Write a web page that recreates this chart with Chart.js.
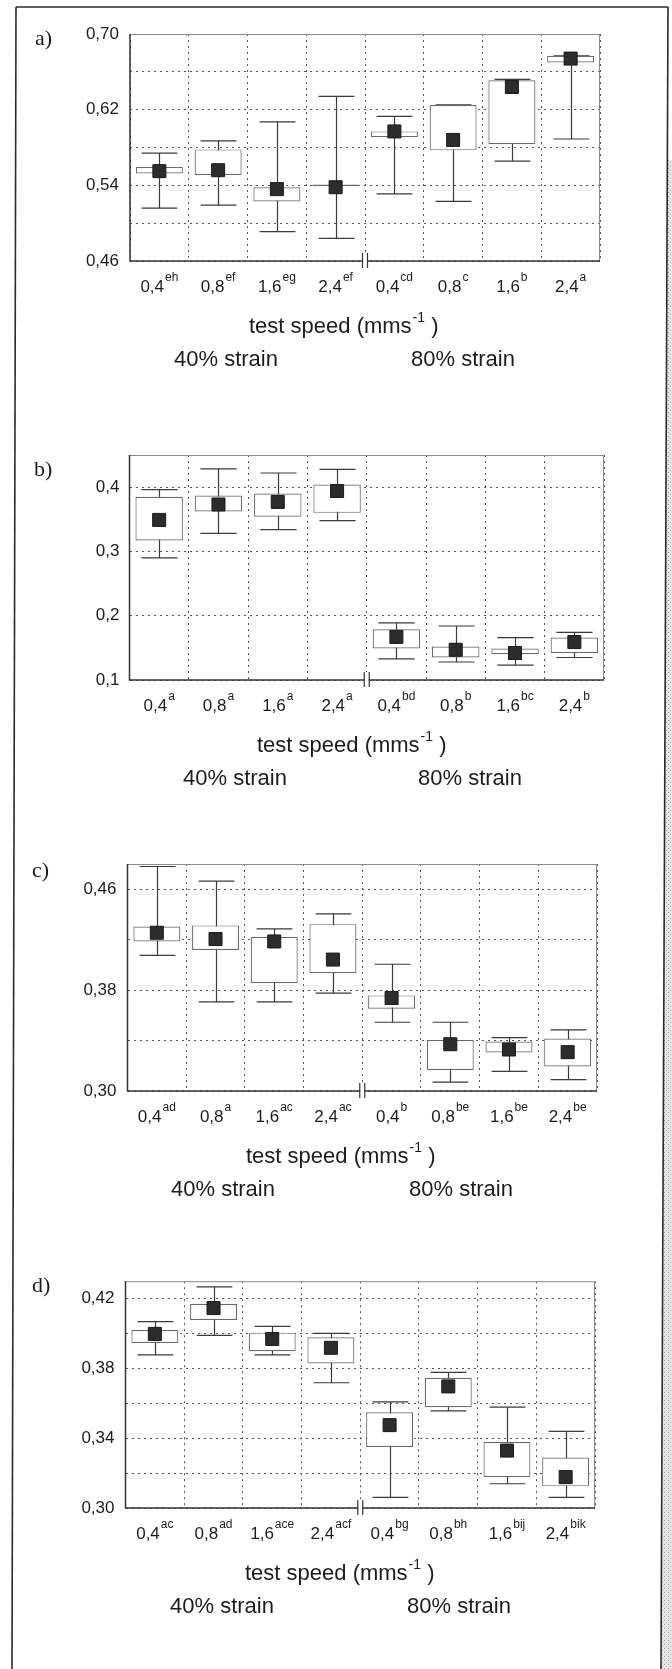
<!DOCTYPE html>
<html>
<head>
<meta charset="utf-8">
<script src="https://cdn.jsdelivr.net/npm/chart.js@4.4.0/dist/chart.umd.min.js"></script>
<style>
  html, body { margin: 0; padding: 0; background: #fff; }
  #page { position: relative; width: 672px; height: 1669px; overflow: hidden; background: #fff; }
  #page canvas { position: absolute; left: 0; }
  #frame { position: absolute; left: 0; top: 0; pointer-events: none; }
</style>
</head>
<body>
<div id="page">
  <canvas id="chartA" style="top:0px"></canvas>
  <canvas id="chartB" style="top:420px"></canvas>
  <canvas id="chartC" style="top:840px"></canvas>
  <canvas id="chartD" style="top:1260px"></canvas>
  <svg id="frame" width="672" height="1669">
    <defs>
      <pattern id="speck" width="4" height="4" patternUnits="userSpaceOnUse">
        <rect width="4" height="4" fill="#e6e6e6"/>
        <rect x="0" y="0" width="1" height="1" fill="#9c9c9c"/>
        <rect x="2" y="2" width="1" height="1" fill="#b4b4b4"/>
      </pattern>
    </defs>
    <polygon points="667,160 672,160 672,1669 662,1669" fill="url(#speck)"/>
    <line x1="16" y1="7" x2="668" y2="7" stroke="#2a2a2a" stroke-width="1.6"/>
    <line x1="16" y1="7" x2="12" y2="1669" stroke="#2a2a2a" stroke-width="1.6"/>
    <line x1="668" y1="7" x2="661" y2="1669" stroke="#2a2a2a" stroke-width="1.6"/>
  </svg>
</div>
<script>
// categories (test speed) shared by all four panels
const categories = ['0,4', '0,8', '1,6', '2,4', '0,4', '0,8', '1,6', '2,4'];

// panel a
const supA = ['eh', 'ef', 'eg', 'ef', 'cd', 'c', 'b', 'a'];
const whiskerMaxA = [0.574, 0.587, 0.607, 0.634, 0.613, 0.625, 0.652, 0.677];
const boxHighA = [0.5595, 0.578, 0.538, 0.541, 0.597, 0.625, 0.651, 0.677];
const meanA = [0.555, 0.556, 0.536, 0.538, 0.597, 0.588, 0.644, 0.674];
const boxLowA = [0.5525, 0.551, 0.523, 0.539, 0.591, 0.577, 0.5835, 0.670];
const whiskerMinA = [0.516, 0.519, 0.491, 0.484, 0.531, 0.523, 0.5655, 0.589];
const gridTicksA = [0.46, 0.50, 0.54, 0.58, 0.62, 0.66, 0.70];
const labelTicksA = [0.46, 0.54, 0.62, 0.70];

// panel b
const supB = ['a', 'a', 'a', 'a', 'bd', 'b', 'bc', 'b'];
const whiskerMaxB = [0.396, 0.4285, 0.422, 0.4275, 0.189, 0.184, 0.166, 0.174];
const boxHighB = [0.385, 0.387, 0.390, 0.404, 0.179, 0.152, 0.149, 0.166];
const meanB = [0.349, 0.373, 0.377, 0.394, 0.167, 0.147, 0.142, 0.159];
const boxLowB = [0.317, 0.362, 0.354, 0.360, 0.149, 0.135, 0.140, 0.142];
const whiskerMinB = [0.290, 0.328, 0.334, 0.348, 0.133, 0.128, 0.123, 0.135];
const gridTicksB = [0.1, 0.2, 0.3, 0.4];
const labelTicksB = [0.1, 0.2, 0.3, 0.4];

// panel c
const supC = ['ad', 'a', 'ac', 'ac', 'b', 'be', 'be', 'be'];
const whiskerMaxC = [0.478, 0.4665, 0.4286, 0.4404, 0.4005, 0.3545, 0.3423, 0.3484];
const boxHighC = [0.4305, 0.4313, 0.4223, 0.4323, 0.3758, 0.3405, 0.3392, 0.3416];
const meanC = [0.4255, 0.4205, 0.4186, 0.4042, 0.3737, 0.3371, 0.3329, 0.3308];
const boxLowC = [0.4186, 0.4118, 0.3855, 0.3934, 0.3652, 0.3166, 0.3305, 0.3195];
const whiskerMinC = [0.4076, 0.3707, 0.3707, 0.3776, 0.3545, 0.3071, 0.3155, 0.309];
const gridTicksC = [0.30, 0.34, 0.38, 0.42, 0.46];
const labelTicksC = [0.30, 0.38, 0.46];

// panel d
const supD = ['ac', 'ad', 'ace', 'acf', 'bg', 'bh', 'bij', 'bik'];
const whiskerMaxD = [0.4068, 0.4268, 0.4041, 0.4001, 0.3608, 0.3777, 0.3578, 0.3439];
const boxHighD = [0.402, 0.4169, 0.4005, 0.3979, 0.3549, 0.3747, 0.3378, 0.3289];
const meanD = [0.3998, 0.4146, 0.3969, 0.3918, 0.3475, 0.3697, 0.3329, 0.3177];
const boxLowD = [0.3946, 0.4078, 0.3899, 0.3828, 0.335, 0.3578, 0.3177, 0.3124];
const whiskerMinD = [0.3878, 0.399, 0.3878, 0.3718, 0.3061, 0.3557, 0.3139, 0.3061];
const gridTicksD = [0.30, 0.32, 0.34, 0.36, 0.38, 0.40, 0.42];
const labelTicksD = [0.30, 0.34, 0.38, 0.42];

const SANS = '"Liberation Sans", Arial, sans-serif';
const SERIF = '"Liberation Serif", "Times New Roman", serif';
const INK = '#1c1c1c';

// whiskers, frame, break mark and all texts of one panel
function panelPlugin(p) {
    return {
        id: 'panelDecor',
        beforeDatasetsDraw(chart) {
            const ctx = chart.ctx;
            const xs = chart.scales.x;
            const ys = chart.scales.y;
            const step = xs.getPixelForValue(1) - xs.getPixelForValue(0);
            const capHalf = step * 0.305;
            ctx.save();
            ctx.strokeStyle = '#3a3a3a';
            ctx.lineWidth = 1.2;
            p.whiskerMin.forEach((lo, i) => {
                const x = Math.round(xs.getPixelForValue(i)) + 0.5;
                const yLo = ys.getPixelForValue(lo);
                const yHi = ys.getPixelForValue(p.whiskerMax[i]);
                ctx.beginPath();
                ctx.moveTo(x, yLo);
                ctx.lineTo(x, yHi);
                ctx.moveTo(x - capHalf, yLo);
                ctx.lineTo(x + capHalf, yLo);
                ctx.moveTo(x - capHalf, yHi);
                ctx.lineTo(x + capHalf, yHi);
                ctx.stroke();
            });
            ctx.restore();
        },
        afterDraw(chart) {
            const ctx = chart.ctx;
            const a = chart.chartArea;
            const xs = chart.scales.x;
            ctx.save();
            // plot frame
            ctx.lineWidth = 1;
            ctx.strokeStyle = '#8a8a8a';
            ctx.beginPath();
            ctx.moveTo(a.left, a.top + 0.5);
            ctx.lineTo(a.right - 0.5, a.top + 0.5);
            ctx.lineTo(a.right - 0.5, a.bottom);
            ctx.stroke();
            ctx.lineWidth = 1.5;
            ctx.strokeStyle = '#333';
            ctx.beginPath();
            ctx.moveTo(a.left, a.top);
            ctx.lineTo(a.left, a.bottom);
            ctx.lineTo(a.right, a.bottom);
            ctx.stroke();

            // axis break between the two strain groups
            const bx = (xs.getPixelForValue(3) + xs.getPixelForValue(4)) / 2;
            ctx.fillStyle = '#fff';
            ctx.fillRect(bx - 2, a.bottom - 8, 4, 15);
            ctx.lineWidth = 1.2;
            ctx.strokeStyle = '#333';
            ctx.beginPath();
            ctx.moveTo(bx - 2.5, a.bottom - 8);
            ctx.lineTo(bx - 2.5, a.bottom + 7);
            ctx.moveTo(bx + 2.5, a.bottom - 8);
            ctx.lineTo(bx + 2.5, a.bottom + 7);
            ctx.stroke();

            ctx.fillStyle = INK;
            ctx.textBaseline = 'alphabetic';
            ctx.textAlign = 'left';

            // category labels with letter superscripts
            const catY = a.bottom + 31;
            categories.forEach((c, i) => {
                ctx.font = '17px ' + SANS;
                const w1 = ctx.measureText(c).width;
                ctx.font = '12px ' + SANS;
                const w2 = ctx.measureText(p.sup[i]).width;
                const x0 = xs.getPixelForValue(i) - (w1 + w2 + 1) / 2;
                ctx.font = '17px ' + SANS;
                ctx.fillText(c, x0, catY);
                ctx.font = '12px ' + SANS;
                ctx.fillText(p.sup[i], x0 + w1 + 1, catY - 11);
            });

            // axis title
            const tY = a.bottom + 72;
            ctx.font = '22px ' + SANS;
            const part1 = 'test speed (mms';
            ctx.fillText(part1, p.titleX, tY);
            let tx = p.titleX + ctx.measureText(part1).width + 1;
            ctx.font = '14px ' + SANS;
            ctx.fillText('-1', tx, tY - 11);
            tx += ctx.measureText('-1').width;
            ctx.font = '22px ' + SANS;
            ctx.fillText(' )', tx, tY);

            // strain groups
            const sY = a.bottom + 105;
            ctx.fillText('40% strain', p.strain40X, sY);
            ctx.fillText('80% strain', p.strain80X, sY);

            // panel letter
            ctx.font = '22px ' + SANS.replace(SANS, SERIF);
            ctx.textBaseline = 'middle';
            ctx.fillText(p.letter, p.letterX, p.letterY);
            ctx.restore();
        }
    };
}

function makePanel(canvasId, p) {
    const canvas = document.getElementById(canvasId);
    canvas.width = 672;
    canvas.height = p.height;
    canvas.style.width = '672px';
    canvas.style.height = p.height + 'px';
    const near = (v, list) => list.some(t => Math.abs(t - v) < 1e-6);

    return new Chart(canvas, {
        data: {
            labels: categories,
            datasets: [
                {
                    type: 'line',
                    data: p.mean,
                    showLine: false,
                    pointStyle: 'rect',
                    pointRadius: 9.2,
                    pointBorderWidth: 1,
                    pointBackgroundColor: '#2c2c2c',
                    pointBorderColor: '#1a1a1a',
                    order: 0
                },
                {
                    type: 'bar',
                    data: p.boxLow.map((lo, i) => [lo, p.boxHigh[i]]),
                    backgroundColor: '#ffffff',
                    borderColor: '#6b6b6b',
                    borderWidth: 1.2,
                    borderSkipped: false,
                    barPercentage: 0.8,
                    categoryPercentage: 1,
                    order: 1
                }
            ]
        },
        options: {
            responsive: false,
            devicePixelRatio: 1,
            animation: false,
            events: [],
            layout: {
                padding: { left: 0, top: p.plotTop, right: 672 - p.plotRight, bottom: 0 }
            },
            plugins: {
                legend: { display: false },
                tooltip: { enabled: false }
            },
            scales: {
                x: {
                    type: 'category',
                    offset: true,
                    grid: { offset: true, color: '#555', lineWidth: 1, drawTicks: false },
                    border: { display: false, dash: [2, 4] },
                    ticks: { display: false },
                    afterFit: (s) => { s.height = p.height - p.plotBottom; }
                },
                y: {
                    type: 'linear',
                    min: p.yMin,
                    max: p.yMax,
                    afterBuildTicks: (s) => { s.ticks = p.gridTicks.map(v => ({ value: v })); },
                    grid: { color: '#555', lineWidth: 1, drawTicks: false },
                    border: { display: false, dash: [2, 4] },
                    ticks: {
                        padding: p.tickPad,
                        color: INK,
                        font: { family: SANS, size: 17 },
                        callback: (v) => near(v, p.labelTicks) ? v.toFixed(p.decimals).replace('.', ',') : ''
                    },
                    afterFit: (s) => { s.width = p.plotLeft; }
                }
            }
        },
        plugins: [panelPlugin(p)]
    });
}

makePanel('chartA', {
    height: 420, plotTop: 34, plotBottom: 261, plotLeft: 130, plotRight: 600,
    yMin: 0.46, yMax: 0.70, decimals: 2, tickPad: 11,
    gridTicks: gridTicksA, labelTicks: labelTicksA,
    mean: meanA, boxLow: boxLowA, boxHigh: boxHighA, whiskerMin: whiskerMinA, whiskerMax: whiskerMaxA,
    sup: supA, letter: 'a)', letterX: 35, letterY: 39,
    titleX: 249, strain40X: 174, strain80X: 411
});

makePanel('chartB', {
    height: 420, plotTop: 35, plotBottom: 260, plotLeft: 129.5, plotRight: 604,
    yMin: 0.1, yMax: 0.45, decimals: 1, tickPad: 10,
    gridTicks: gridTicksB, labelTicks: labelTicksB,
    mean: meanB, boxLow: boxLowB, boxHigh: boxHighB, whiskerMin: whiskerMinB, whiskerMax: whiskerMaxB,
    sup: supB, letter: 'b)', letterX: 34, letterY: 50,
    titleX: 257, strain40X: 183, strain80X: 418
});

makePanel('chartC', {
    height: 420, plotTop: 24, plotBottom: 251, plotLeft: 127.5, plotRight: 597,
    yMin: 0.30, yMax: 0.48, decimals: 2, tickPad: 11,
    gridTicks: gridTicksC, labelTicks: labelTicksC,
    mean: meanC, boxLow: boxLowC, boxHigh: boxHighC, whiskerMin: whiskerMinC, whiskerMax: whiskerMaxC,
    sup: supC, letter: 'c)', letterX: 32, letterY: 31,
    titleX: 246, strain40X: 171, strain80X: 409
});

makePanel('chartD', {
    height: 409, plotTop: 21, plotBottom: 248, plotLeft: 125.5, plotRight: 595,
    yMin: 0.30, yMax: 0.43, decimals: 2, tickPad: 11,
    gridTicks: gridTicksD, labelTicks: labelTicksD,
    mean: meanD, boxLow: boxLowD, boxHigh: boxHighD, whiskerMin: whiskerMinD, whiskerMax: whiskerMaxD,
    sup: supD, letter: 'd)', letterX: 32, letterY: 26,
    titleX: 245, strain40X: 170, strain80X: 407
});
</script>
</body>
</html>
